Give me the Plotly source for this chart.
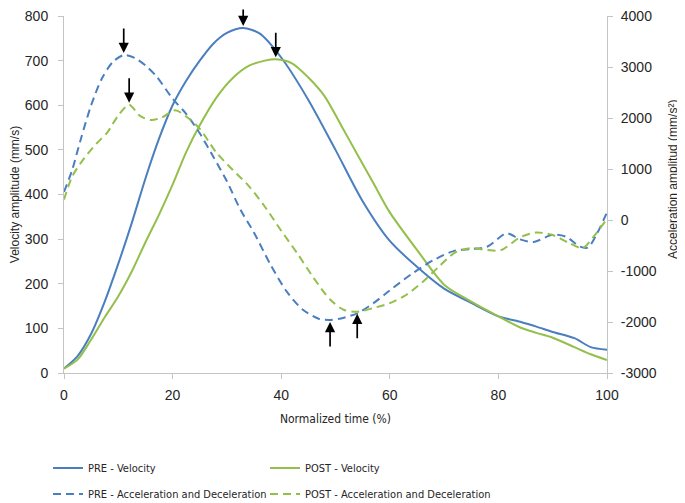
import plotly.graph_objects as go

# ---------------- data ----------------
pre_vel_t = [0, 2.5, 5, 7.5, 10, 12.5, 15, 17.5, 20, 22.5, 25, 27.5, 30, 33, 36, 40, 45, 50, 55, 60, 65, 70, 75, 80, 84, 87, 90, 94, 97, 100]
pre_vel = [10, 38, 88, 160, 245, 337, 436, 525, 600, 655, 700, 738, 762, 773, 761, 707, 612, 500, 385, 296, 238, 189, 157, 127, 115, 104, 92, 78, 58, 52]

post_vel_t = [0, 2.5, 5, 7.5, 10, 12.5, 15, 17.5, 20, 22.5, 25, 28, 31, 34, 37, 39, 42, 45, 48, 51, 54, 57, 60, 65, 70, 75, 80, 84, 87, 90, 94, 97, 100]
post_vel = [10, 30, 75, 125, 172, 228, 293, 355, 422, 495, 555, 616, 660, 688, 700, 703, 694, 662, 620, 556, 490, 425, 360, 276, 198, 160, 127, 102, 90, 79, 58, 42, 29]

pre_acc_t = [0, 1.5, 3, 5, 7, 9, 11, 13, 15, 17, 20, 22.5, 25, 27.5, 30, 32.5, 35, 38, 41, 44, 47, 49, 51, 54, 57, 60, 64, 68, 72, 75, 78, 81.5, 84, 86.5, 90, 92.5, 95, 96.5, 98, 100]
pre_acc = [550, 980, 1550, 2250, 2780, 3100, 3235, 3180, 3030, 2820, 2380, 2080, 1700, 1240, 760, 200, -250, -870, -1400, -1760, -1940, -1960, -1930, -1830, -1630, -1380, -1060, -790, -600, -570, -520, -260, -380, -430, -290, -330, -520, -540, -300, 150]

post_acc_t = [0, 1.5, 3.5, 6, 8, 10, 12, 14, 16, 18, 20.5, 22.5, 25, 28, 31, 34, 37, 40, 43, 46, 49, 51.5, 54, 57, 60, 63, 66, 69, 72, 75, 78, 80.5, 84, 87, 90, 93, 95.5, 97.5, 100]
post_acc = [400, 850, 1180, 1500, 1720, 2050, 2260, 2040, 1960, 2010, 2150, 2030, 1790, 1330, 990, 670, 260, -210, -660, -1140, -1560, -1760, -1800, -1725, -1630, -1470, -1220, -920, -640, -550, -590, -590, -340, -245, -295, -450, -550, -330, 20]

x_ticks = [0, 20, 40, 60, 80, 100]
vel_ticks = [0, 100, 200, 300, 400, 500, 600, 700, 800]
acc_ticks = [-3000, -2000, -1000, 0, 1000, 2000, 3000, 4000]
acc_tick_text = ["-3000", "-2000", "-1000", "0", "1000", "2000", "3000", "4000"]

names = ["PRE - Velocity", "POST - Velocity",
         "PRE - Acceleration and Deceleration", "POST - Acceleration and Deceleration"]
acc_title = "Acceleration amplitud (mm/s²)"

BLUE = "#4a7ebf"
GREEN = "#93bf4a"
AXIS = "#c4c4c4"
TXT = "#262626"
NARROW = "Liberation Sans Narrow, Arial Narrow, DejaVu Sans Condensed, sans-serif"
REG = "Liberation Sans, Arial, sans-serif"

# the page body keeps its default 8px margin, so the figure is sized to fill
# the 685x503 window from that offset
W, H = 677, 495
ML, MR, MT, MB = 56, 78, 8, 130

fig = go.Figure()
fig.add_trace(go.Scatter(x=pre_vel_t, y=pre_vel, name=names[0], mode="lines", legend="legend",
                         line=dict(color=BLUE, width=2, shape="spline", smoothing=0.8)))
fig.add_trace(go.Scatter(x=post_vel_t, y=post_vel, name=names[1], mode="lines", legend="legend2",
                         line=dict(color=GREEN, width=2, shape="spline", smoothing=0.8)))
fig.add_trace(go.Scatter(x=pre_acc_t, y=pre_acc, name=names[2], mode="lines", yaxis="y2", legend="legend3",
                         line=dict(color=BLUE, width=2, dash="8px,5px", shape="spline", smoothing=0.8)))
fig.add_trace(go.Scatter(x=post_acc_t, y=post_acc, name=names[3], mode="lines", yaxis="y2", legend="legend4",
                         line=dict(color=GREEN, width=2, dash="8px,5px", shape="spline", smoothing=0.8)))


def extreme(ts, vs, fn):
    i = vs.index(fn(vs))
    return ts[i], vs[i]


arrows = [
    (pre_vel_t, pre_vel, max, "y", -1),
    (post_vel_t, post_vel, max, "y", -1),
    (pre_acc_t, pre_acc, max, "y2", -1),
    (post_acc_t, post_acc, max, "y2", -1),
    (pre_acc_t, pre_acc, min, "y2", 1),
    (post_acc_t, post_acc, min, "y2", 1),
]
for ts, vs, fn, yref, d in arrows:
    xt, yt = extreme(ts, vs, fn)
    fig.add_annotation(x=xt, y=yt, xref="x", yref=yref, text="", showarrow=True,
                       ax=0, ay=d * 28, arrowhead=2, arrowsize=1.2, arrowwidth=1.7,
                       arrowcolor="#000000", standoff=2)

# right-hand axis title, placed in paper units beside the tick labels
pw, ph = W - ML - MR, H - MT - MB
fig.add_annotation(text=acc_title, xref="paper", yref="paper",
                   x=(665 - ML) / pw, y=1 - (172 - MT) / ph, xanchor="center", yanchor="middle",
                   textangle=-90, showarrow=False, font=dict(family=REG, size=12, color=TXT))


def leg(px, py):
    return dict(orientation="h", xref="container", yref="container",
                x=px / W, xanchor="left", y=1 - py / H, yanchor="middle",
                font=dict(family=NARROW, size=11, color=TXT), bgcolor="rgba(0,0,0,0)")


fig.update_layout(
    width=W, height=H,
    margin=dict(l=ML, r=MR, t=MT, b=MB, autoexpand=False),
    paper_bgcolor="white", plot_bgcolor="white",
    font=dict(family=REG, size=14, color=TXT),
    showlegend=True,
    legend=leg(40, 460),
    legend2=leg(257, 460),
    legend3=leg(40, 486),
    legend4=leg(257, 486),
    xaxis=dict(range=[0, 100], tickvals=x_ticks, showline=True, linecolor=AXIS, linewidth=1,
               ticks="outside", ticklen=5, tickcolor=AXIS, showgrid=False, zeroline=False,
               automargin=False, ticklabelstandoff=4, ticklabeloverflow="allow",
               tickfont=dict(family=REG, size=14, color=TXT),
               title=dict(text="Normalized time (%)", font=dict(family=NARROW, size=12, color=TXT), standoff=12)),
    yaxis=dict(range=[0, 800], tickvals=vel_ticks, showline=True, linecolor=AXIS, linewidth=1,
               ticks="outside", ticklen=5, tickcolor=AXIS, showgrid=False, zeroline=False,
               automargin=False, ticklabelstandoff=7, ticklabeloverflow="allow",
               tickfont=dict(family=REG, size=14, color=TXT),
               title=dict(text="Velocity amplitude (mm/s)", font=dict(family=REG, size=12, color=TXT), standoff=4)),
    yaxis2=dict(range=[-3000, 4000], tickvals=acc_ticks, ticktext=acc_tick_text, overlaying="y", side="right",
                showline=True, linecolor=AXIS, linewidth=1, ticks="outside", ticklen=5, tickcolor=AXIS,
                automargin=False, ticklabelstandoff=5, ticklabeloverflow="allow",
                showgrid=False, zeroline=False, tickfont=dict(family=REG, size=14, color=TXT)),
)

fig.write_html("out.html")
